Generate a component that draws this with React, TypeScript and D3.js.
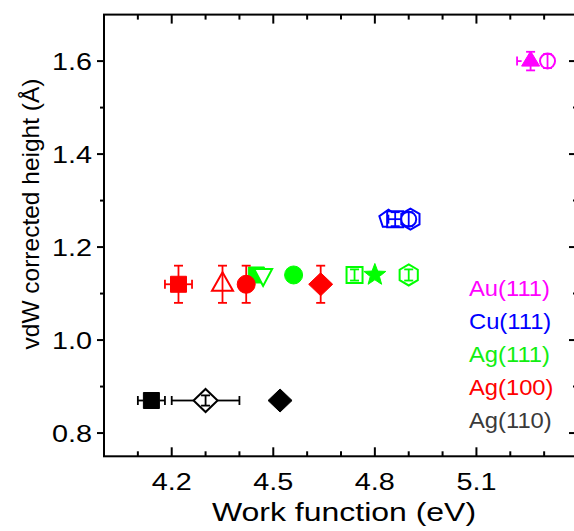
import React from "react";
import * as d3 from "d3";

// ---------- data ----------
const surfaceNames = ["Au(111)", "Cu(111)", "Ag(111)", "Ag(100)", "Ag(110)"];

const au111Wf = [5.26, 5.31];
const au111H = [1.6, 1.6];
const au111WfErr = [0.04, 0];
const au111HErr = [0.02, 0.015];

const cu111Wf = [4.84, 4.86, 4.905, 4.9];
const cu111H = [1.26, 1.26, 1.26, 1.26];
const cu111WfErr = [0, 0.02, 0, 0];
const cu111HErr = [0, 0.015, 0, 0.015];

const ag111Wf = [4.45, 4.47, 4.56, 4.74, 4.8, 4.9];
const ag111H = [1.14, 1.14, 1.14, 1.14, 1.14, 1.14];
const ag111WfErr = [0, 0, 0, 0, 0, 0];
const ag111HErr = [0, 0, 0, 0.012, 0, 0.012];

const ag100Wf = [4.22, 4.35, 4.42, 4.64];
const ag100H = [1.12, 1.12, 1.12, 1.12];
const ag100WfErr = [0.04, 0, 0, 0];
const ag100HErr = [0.04, 0.04, 0.04, 0.04];

const ag110Wf = [4.14, 4.3, 4.52];
const ag110H = [0.87, 0.87, 0.87];
const ag110WfErr = [0.04, 0.1, 0];
const ag110HErr = [0, 0.011, 0];

const xTickValues = [4.2, 4.5, 4.8, 5.1];
const xMinorValues = [4.1, 4.3, 4.4, 4.6, 4.7, 4.9, 5.0, 5.2, 5.3];
const yTickValues = [0.8, 1.0, 1.2, 1.4, 1.6];
const yMinorValues = [0.9, 1.1, 1.3, 1.5];

// ---------- styles ----------
const au111Markers = ["triUp", "circle"];
const au111Filled = [true, false];
const cu111Markers = ["pentagon", "square", "hexagon", "circle"];
const cu111Filled = [false, false, false, false];
const ag111Markers = ["square", "triDown", "circle", "square", "star", "hexagon"];
const ag111Filled = [true, false, true, false, true, false];
const ag100Markers = ["square", "triUp", "circle", "diamond"];
const ag100Filled = [true, false, true, true];
const ag110Markers = ["square", "diamond", "diamond"];
const ag110Filled = [true, false, true];

const seriesColors = ["#ff00ff", "#0000ff", "#00ff00", "#ff0000", "#000000"];
const legendColors = ["#ff00ff", "#0000ff", "#11ee11", "#ff0000", "#3a3a3a"];

const series = [
  { wf: au111Wf, h: au111H, ex: au111WfErr, ey: au111HErr, m: au111Markers, f: au111Filled },
  { wf: cu111Wf, h: cu111H, ex: cu111WfErr, ey: cu111HErr, m: cu111Markers, f: cu111Filled },
  { wf: ag111Wf, h: ag111H, ex: ag111WfErr, ey: ag111HErr, m: ag111Markers, f: ag111Filled },
  { wf: ag100Wf, h: ag100H, ex: ag100WfErr, ey: ag100HErr, m: ag100Markers, f: ag100Filled },
  { wf: ag110Wf, h: ag110H, ex: ag110WfErr, ey: ag110HErr, m: ag110Markers, f: ag110Filled },
];

const W = 574;
const H = 531;
const FONT = "'Liberation Sans', Arial, Helvetica, sans-serif";

const x = d3.scaleLinear().domain([4.0, 5.4]).range([104, 578]);
const y = d3.scaleLinear().domain([0.75, 1.7]).range([456.3, 14.6]);

function polygon(n: number, r: number, rot: number) {
  const pts: [number, number][] = [];
  for (let i = 0; i < n; i++) {
    const a = rot + (i * 2 * Math.PI) / n;
    pts.push([r * Math.cos(a), r * Math.sin(a)]);
  }
  return d3.line()(pts) + "Z";
}

function starPath(R: number) {
  const pts: [number, number][] = [];
  const r = R * 0.42;
  for (let i = 0; i < 10; i++) {
    const a = -Math.PI / 2 + (i * Math.PI) / 5;
    const rr = i % 2 === 0 ? R : r;
    pts.push([rr * Math.cos(a), rr * Math.sin(a)]);
  }
  return d3.line()(pts) + "Z";
}

// half extents [hx, hy] for error-bar gaps
function markerShape(kind: string, filled: boolean) {
  switch (kind) {
    case "square":
      return { d: "M-8,-8H8V8H-8Z", hx: 8, hy: 8 };
    case "circle":
      return { d: filled ? "M9,0A9,9 0 1,1 -9,0A9,9 0 1,1 9,0Z" : "M7.5,0A7.5,7.5 0 1,1 -7.5,0A7.5,7.5 0 1,1 7.5,0Z", hx: filled ? 9 : 7.5, hy: 9 };
    case "triUp":
      return filled
        ? { d: "M0,-10L9,5L-9,5Z", hx: 9, hy: 8 }
        : { d: "M0,-12L10.5,6.5L-10.5,6.5Z", hx: 10.5, hy: 9 };
    case "triDown":
      return { d: "M0,11L-9,-6L9,-6Z", hx: 9, hy: 8 };
    case "diamond":
      return { d: "M0,-11.5L12,0L0,11.5L-12,0Z", hx: 12, hy: 11.5 };
    case "pentagon":
      return { d: polygon(5, 9.5, -Math.PI / 2), hx: 9, hy: 9 };
    case "hexagon":
      return { d: polygon(6, 10.5, -Math.PI / 2), hx: 9, hy: 10.5 };
    case "star":
      return { d: starPath(11.5), hx: 11, hy: 11 };
  }
  return { d: "", hx: 0, hy: 0 };
}

function ScaledText(props: any) {
  const { x0, y0, sx, anchor, size, fill, children } = props;
  return (
    <text
      transform={`translate(${x0},${y0}) scale(${sx},1)`}
      textAnchor={anchor}
      fontSize={size}
      fontFamily={FONT}
      fill={fill}
    >
      {children}
    </text>
  );
}

export default function App() {
  const left = x.range()[0];
  const right = x.range()[1];
  const top = y.range()[1];
  const bottom = y.range()[0];
  const cap = 4.5;

  const marks: any[] = [];
  series.forEach((s, si) => {
    const color = seriesColors[si];
    s.wf.forEach((wf, i) => {
      const cx = x(wf);
      const cy = y(s.h[i]);
      const shp = markerShape(s.m[i], s.f[i]);
      const exPx = x(wf + s.ex[i]) - cx;
      const eyPx = cy - y(s.h[i] + s.ey[i]);
      const pieces: any[] = [];
      // marker
      pieces.push(
        <path
          key="m"
          d={shp.d}
          transform={`translate(${cx},${cy})`}
          fill={s.f[i] ? color : "#ffffff"}
          stroke={color}
          strokeWidth={s.f[i] ? 1 : 2}
          strokeLinejoin="miter"
        />
      );
      // horizontal error bar
      if (s.ex[i] > 0) {
        const g = exPx > shp.hx ? shp.hx : 0;
        pieces.push(
          <g key="ex" stroke={color} strokeWidth={1.8} fill="none">
            <line x1={cx - exPx} x2={cx - g} y1={cy} y2={cy} />
            <line x1={cx + g} x2={cx + exPx} y1={cy} y2={cy} />
            <line x1={cx - exPx} x2={cx - exPx} y1={cy - cap} y2={cy + cap} />
            <line x1={cx + exPx} x2={cx + exPx} y1={cy - cap} y2={cy + cap} />
          </g>
        );
      }
      if (s.ey[i] > 0) {
        pieces.push(
          <g key="ey" stroke={color} strokeWidth={1.8} fill="none">
            <line x1={cx} x2={cx} y1={cy - eyPx} y2={cy + eyPx} />
            <line x1={cx - cap} x2={cx + cap} y1={cy - eyPx} y2={cy - eyPx} />
            <line x1={cx - cap} x2={cx + cap} y1={cy + eyPx} y2={cy + eyPx} />
          </g>
        );
      }
      marks.push(<g key={`${si}-${i}`}>{pieces}</g>);
    });
  });

  const legendBaselines = [296, 329, 362, 395, 428];

  return (
    <svg
      width={W}
      height={H}
      style={{ position: "absolute", left: 0, top: 0, background: "#fff" }}
    >
      <rect x={0} y={0} width={W} height={H} fill="#ffffff" />
      {/* frame */}
      <rect
        x={left}
        y={top}
        width={right - left}
        height={bottom - top}
        fill="none"
        stroke="#000"
        strokeWidth={2}
      />
      {/* x ticks: bottom & top inward */}
      <g stroke="#000" strokeWidth={2}>
        {xTickValues.map((v) => (
          <g key={`xt${v}`}>
            <line x1={x(v)} x2={x(v)} y1={bottom} y2={bottom - 9} />
            <line x1={x(v)} x2={x(v)} y1={top} y2={top + 9} />
          </g>
        ))}
        {xMinorValues.map((v) => (
          <g key={`xm${v}`}>
            <line x1={x(v)} x2={x(v)} y1={bottom} y2={bottom - 5} />
            <line x1={x(v)} x2={x(v)} y1={top} y2={top + 5} />
          </g>
        ))}
        {yTickValues.map((v) => (
          <g key={`yt${v}`}>
            <line x1={left} x2={left - 7} y1={y(v)} y2={y(v)} />
            <line x1={right} x2={right - 9} y1={y(v)} y2={y(v)} />
          </g>
        ))}
        {yMinorValues.map((v) => (
          <g key={`ym${v}`}>
            <line x1={left} x2={left - 4} y1={y(v)} y2={y(v)} />
            <line x1={right} x2={right - 5} y1={y(v)} y2={y(v)} />
          </g>
        ))}
      </g>
      {/* tick labels */}
      {xTickValues.map((v) => (
        <ScaledText key={`xl${v}`} x0={x(v)} y0={490} sx={1.2} anchor="middle" size={24} fill="#000">
          {d3.format(".1f")(v)}
        </ScaledText>
      ))}
      {yTickValues.map((v) => (
        <ScaledText key={`yl${v}`} x0={92} y0={y(v) + 8.5} sx={1.2} anchor="end" size={24} fill="#000">
          {d3.format(".1f")(v)}
        </ScaledText>
      ))}
      {/* axis titles */}
      <ScaledText x0={344} y0={521} sx={1.23} anchor="middle" size={26} fill="#000">
        Work function (eV)
      </ScaledText>
      <text
        transform="translate(38.5,214) rotate(-90)"
        textAnchor="middle"
        fontSize={24.5}
        fontFamily={FONT}
        fill="#000"
      >
        vdW corrected height (Å)
      </text>
      {/* data */}
      {marks}
      {/* legend */}
      {surfaceNames.map((n, i) => (
        <ScaledText key={n} x0={469} y0={legendBaselines[i]} sx={1.08} anchor="start" size={22} fill={legendColors[i]}>
          {n}
        </ScaledText>
      ))}
    </svg>
  );
}
